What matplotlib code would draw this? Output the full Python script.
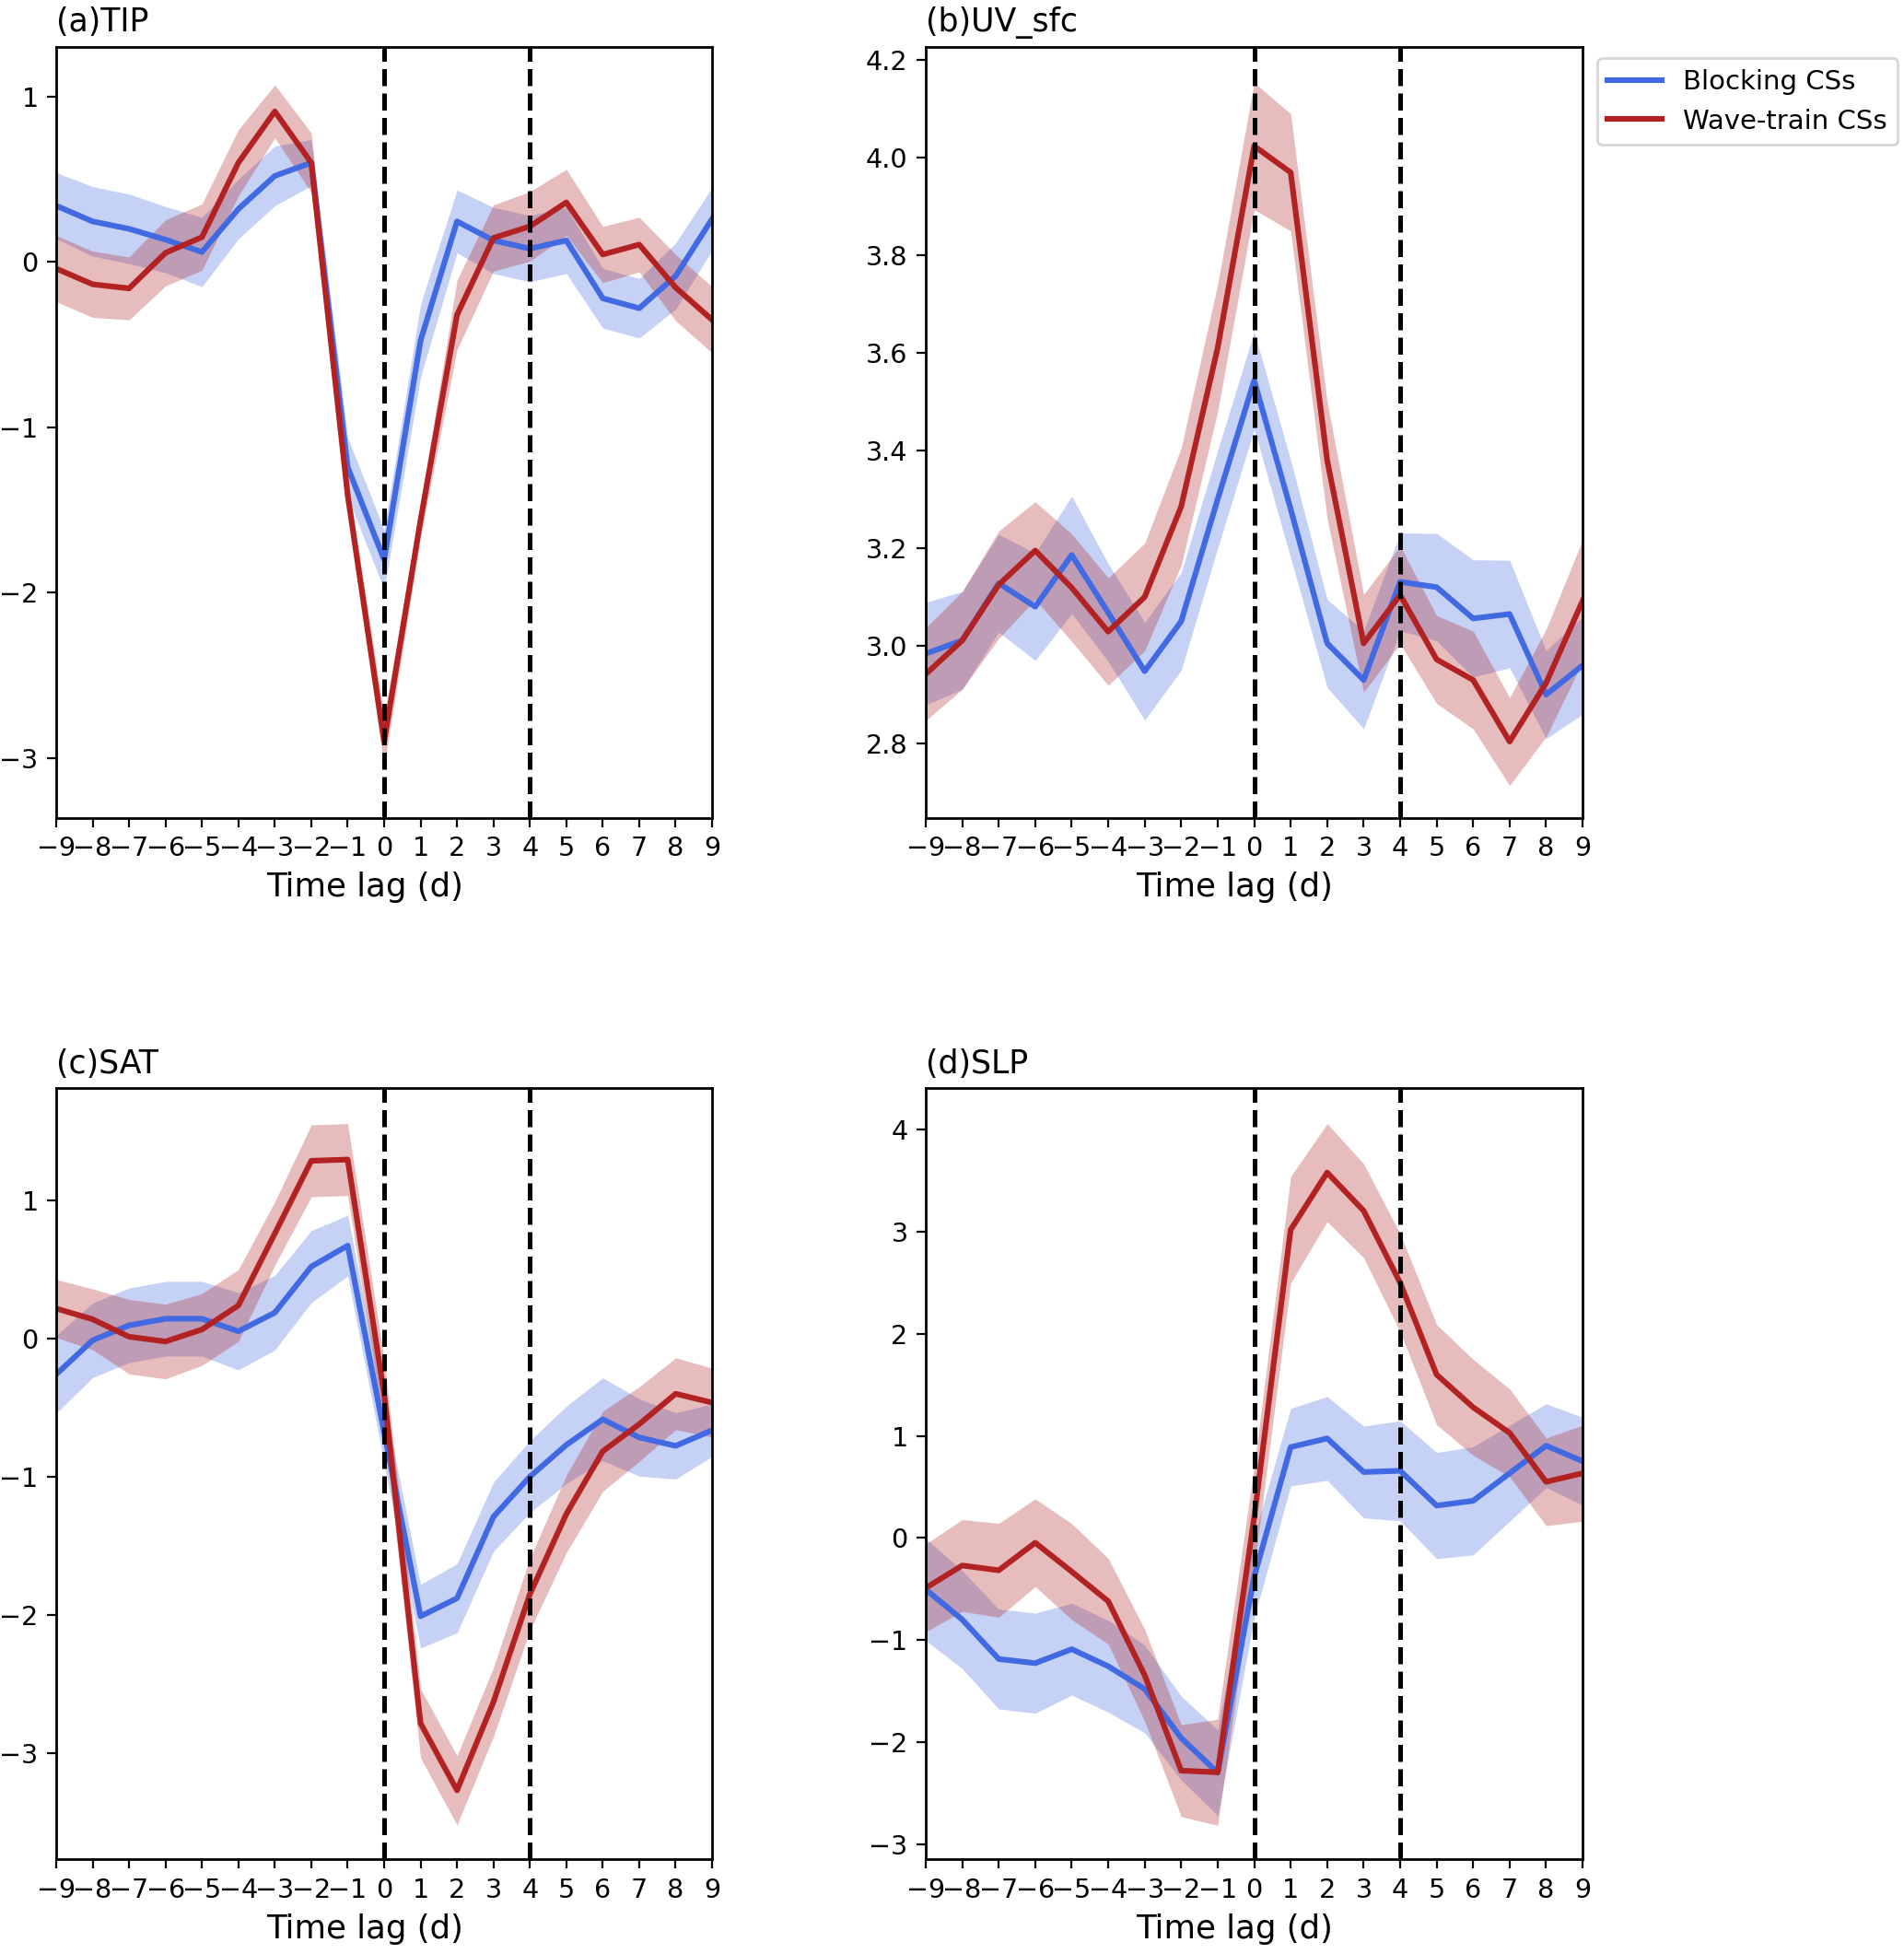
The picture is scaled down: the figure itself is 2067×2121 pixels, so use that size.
import numpy as np
import matplotlib
matplotlib.use("Agg")
import matplotlib.pyplot as plt

lags = list(range(-9, 10))
xtick_labels = [str(v) for v in lags]

titles = ["(a)TIP", "(b)UV_sfc", "(c)SAT", "(d)SLP"]
series_names = ["Blocking CSs", "Wave-train CSs"]

# (a) TIP
tip_block = [0.34, 0.245, 0.20, 0.135, 0.06, 0.32, 0.52, 0.60, -1.24, -1.80,
             -0.475, 0.245, 0.13, 0.08, 0.13, -0.22, -0.28, -0.085, 0.26]
tip_block_err = [0.20, 0.21, 0.21, 0.20, 0.21, 0.18, 0.18, 0.14, 0.18, 0.18,
                 0.22, 0.19, 0.20, 0.20, 0.20, 0.18, 0.18, 0.20, 0.19]
tip_wave = [-0.04, -0.135, -0.16, 0.055, 0.15, 0.60, 0.91, 0.60, -1.41, -2.90,
            -1.56, -0.32, 0.145, 0.215, 0.36, 0.045, 0.105, -0.155, -0.35]
tip_wave_err = [0.20, 0.20, 0.19, 0.20, 0.20, 0.20, 0.16, 0.18, 0.10, 0.15,
                0.10, 0.21, 0.20, 0.21, 0.20, 0.17, 0.165, 0.20, 0.20]

# (b) UV_sfc
uv_block = [2.984, 3.011, 3.128, 3.080, 3.186, 3.068, 2.948, 3.050, 3.30, 3.543,
            3.28, 3.005, 2.930, 3.131, 3.120, 3.056, 3.065, 2.900, 2.960]
uv_block_err = [0.105, 0.10, 0.10, 0.11, 0.12, 0.10, 0.10, 0.10, 0.10, 0.10,
                0.10, 0.09, 0.10, 0.10, 0.11, 0.12, 0.11, 0.09, 0.10]
uv_wave = [2.942, 3.011, 3.125, 3.195, 3.119, 3.029, 3.100, 3.285, 3.61, 4.023,
           3.969, 3.38, 3.005, 3.104, 2.972, 2.930, 2.804, 2.924, 3.092]
uv_wave_err = [0.095, 0.10, 0.11, 0.10, 0.11, 0.11, 0.11, 0.12, 0.13, 0.13,
               0.12, 0.12, 0.10, 0.10, 0.09, 0.10, 0.09, 0.11, 0.125]

# (c) SAT
sat_block = [-0.26, -0.013, 0.095, 0.143, 0.143, 0.052, 0.187, 0.52, 0.672, -0.68,
             -2.01, -1.88, -1.29, -1.00, -0.77, -0.585, -0.716, -0.777, -0.664]
sat_block_err = [0.28, 0.27, 0.27, 0.27, 0.27, 0.28, 0.27, 0.26, 0.22, 0.22,
                 0.23, 0.25, 0.25, 0.26, 0.28, 0.30, 0.28, 0.24, 0.19]
sat_wave = [0.217, 0.139, 0.013, -0.022, 0.065, 0.239, 0.76, 1.286, 1.295, -0.40,
            -2.785, -3.27, -2.63, -1.85, -1.27, -0.816, -0.62, -0.40, -0.464]
sat_wave_err = [0.21, 0.22, 0.27, 0.27, 0.26, 0.26, 0.23, 0.26, 0.26, 0.25,
                0.25, 0.25, 0.25, 0.26, 0.28, 0.29, 0.27, 0.26, 0.25]

# (d) SLP
slp_block = [-0.505, -0.80, -1.186, -1.227, -1.09, -1.257, -1.48, -1.96, -2.30, -0.38,
             0.89, 0.975, 0.646, 0.658, 0.317, 0.364, 0.634, 0.904, 0.752]
slp_block_err = [0.50, 0.48, 0.49, 0.49, 0.45, 0.45, 0.43, 0.41, 0.42, 0.40,
                 0.38, 0.41, 0.45, 0.49, 0.52, 0.53, 0.47, 0.41, 0.43]
slp_wave = [-0.49, -0.27, -0.317, -0.047, -0.33, -0.62, -1.345, -2.28, -2.296, 0.20,
            3.02, 3.58, 3.206, 2.50, 1.60, 1.28, 1.03, 0.55, 0.634]
slp_wave_err = [0.43, 0.45, 0.46, 0.43, 0.47, 0.42, 0.45, 0.45, 0.52, 0.50,
                0.52, 0.48, 0.46, 0.48, 0.49, 0.47, 0.43, 0.43, 0.47]

ylims = [(-3.36, 1.30), (2.648, 4.226), (-3.77, 1.81), (-3.15, 4.405)]
yticks = [[-3, -2, -1, 0, 1], [2.8, 3.0, 3.2, 3.4, 3.6, 3.8, 4.0, 4.2],
          [-3, -2, -1, 0, 1], [-3, -2, -1, 0, 1, 2, 3, 4]]
ytick_fmt = ["{:g}", "{:.1f}", "{:g}", "{:g}"]

panels = [
    (tip_block, tip_block_err, tip_wave, tip_wave_err),
    (uv_block, uv_block_err, uv_wave, uv_wave_err),
    (sat_block, sat_block_err, sat_wave, sat_wave_err),
    (slp_block, slp_block_err, slp_wave, slp_wave_err),
]

blue = "#4169E1"
red = "#B22222"

fig = plt.figure(figsize=(2067 / 200, 2121 / 200), dpi=200)
positions = [
    [0.0295, 0.5815, 0.3445, 0.3945],
    [0.4862, 0.5815, 0.3450, 0.3945],
    [0.0295, 0.0484, 0.3445, 0.3946],
    [0.4862, 0.0484, 0.3450, 0.3946],
]

x = np.array(lags)
for i, (pos, (b, be, w, we)) in enumerate(zip(positions, panels)):
    ax = fig.add_axes(pos)
    b = np.array(b); be = np.array(be); w = np.array(w); we = np.array(we)
    ax.fill_between(x, b - be, b + be, color=blue, alpha=0.3, linewidth=0)
    ax.fill_between(x, w - we, w + we, color=red, alpha=0.3, linewidth=0)
    ax.plot(x, b, color=blue, lw=2.2, label=series_names[0])
    ax.plot(x, w, color=red, lw=2.2, label=series_names[1])
    ax.axvline(0, color="black", ls="--", lw=1.8)
    ax.axvline(4, color="black", ls="--", lw=1.8)
    ax.set_xlim(-9, 9)
    ax.set_ylim(*ylims[i])
    ax.set_xticks(lags)
    ax.set_xticklabels([l.replace("-", "\u2212") for l in xtick_labels], fontsize=10.3)
    ax.set_yticks(yticks[i])
    ax.set_yticklabels([ytick_fmt[i].format(v).replace("-", "\u2212") for v in yticks[i]], fontsize=10.3)
    ax.set_xlabel("Time lag (d)", fontsize=12.8, labelpad=4, x=0.47)
    ax.set_title(titles[i], loc="left", fontsize=12.5, pad=6)
    for s in ax.spines.values():
        s.set_linewidth(1.0)
    if i == 1:
        ax.legend(loc="upper left", bbox_to_anchor=(1.022, 0.985), borderaxespad=0,
                  fontsize=10.5, frameon=True)

fig.savefig("out.png", dpi=200)
